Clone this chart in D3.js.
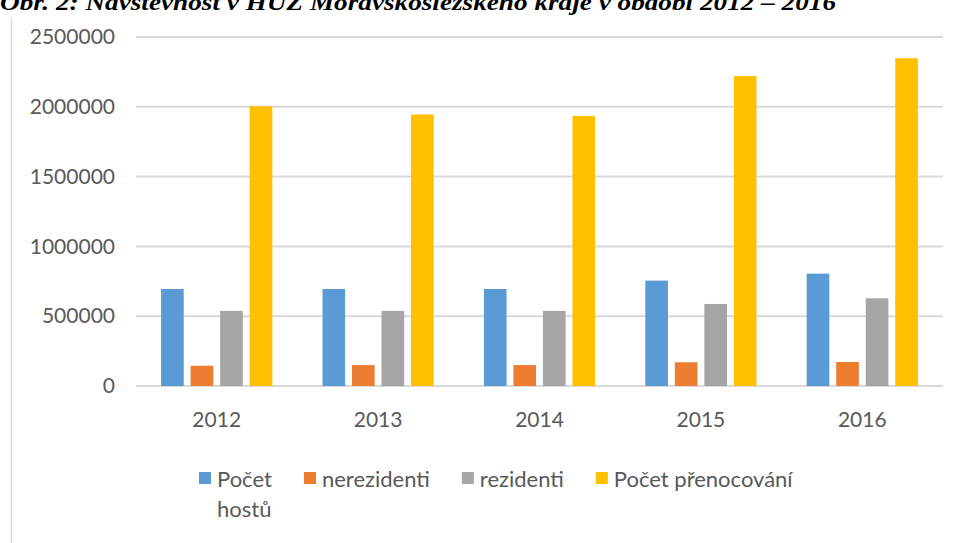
<!DOCTYPE html>
<html>
<head>
<meta charset="utf-8">
<script src="https://cdn.jsdelivr.net/npm/d3@7"></script>
<style>
  body { margin: 0; background: #fff; }
  svg { display: block; }
</style>
</head>
<body>
<div id="chart"></div>
<script>
// data
var years = ["2012", "2013", "2014", "2015", "2016"];
var seriesNames = ["Počet hostů", "nerezidenti", "rezidenti", "Počet přenocování"];
var pocetHostu = [695000, 695000, 695000, 755000, 805000];
var nerezidenti = [145000, 150000, 150000, 170000, 172000];
var rezidenti = [538000, 538000, 538000, 588000, 628000];
var pocetPrenocovani = [2004000, 1945000, 1935000, 2220000, 2348000];
var yTicks = [0, 500000, 1000000, 1500000, 2000000, 2500000];
var titleText = "Obr. 2: Návštěvnost v HUZ Moravskoslezského kraje v období 2012 – 2016";

var colors = ["#5B9BD5", "#ED7D31", "#A5A5A5", "#FFC000"];
var allSeries = [pocetHostu, nerezidenti, rezidenti, pocetPrenocovani];

var svgWidth = 960;
var svgHeight = 543;

var margin = { top: 37, right: 17, bottom: 157, left: 136 };
var width = svgWidth - margin.left - margin.right;
var height = svgHeight - margin.top - margin.bottom;

var svg = d3.select("#chart")
  .append("svg")
  .attr("width", svgWidth)
  .attr("height", svgHeight);

// frame line on the left
svg.append("line")
  .attr("x1", 11.5).attr("x2", 11.5)
  .attr("y1", 18).attr("y2", svgHeight)
  .attr("stroke", "#d9d9d9")
  .attr("stroke-width", 1.5);

// title, clipped at the top edge like in the source scan
svg.append("text")
  .attr("x", 0)
  .attr("y", 10)
  .attr("font-family", "Liberation Serif")
  .attr("font-weight", "bold")
  .attr("font-style", "italic")
  .attr("font-size", "24px")
  .attr("textLength", 836)
  .attr("lengthAdjust", "spacingAndGlyphs")
  .attr("fill", "#000")
  .text(titleText);

var chartGroup = svg.append("g")
  .attr("transform", `translate(${margin.left}, ${margin.top})`);

// scales
var x0 = d3.scaleBand()
  .domain(years)
  .range([0, width]);

var x1 = d3.scaleBand()
  .domain(seriesNames)
  .range([0, x0.bandwidth()])
  .paddingInner(0.233)
  .paddingOuter(0.85);

var yScale = d3.scaleLinear()
  .domain([0, 2500000])
  .range([height, 0]);

// gridlines
chartGroup.append("g")
  .selectAll("line")
  .data(yTicks)
  .enter()
  .append("line")
  .attr("x1", 0)
  .attr("x2", width)
  .attr("y1", d => yScale(d))
  .attr("y2", d => yScale(d))
  .attr("stroke", "#d9d9d9")
  .attr("stroke-width", 2);

// y axis labels
var leftAxis = d3.axisLeft(yScale)
  .tickValues(yTicks)
  .tickFormat(d3.format("d"))
  .tickSize(0)
  .tickPadding(21);
var yAxisG = chartGroup.append("g").call(leftAxis);
yAxisG.select(".domain").remove();
yAxisG.selectAll("text")
  .attr("font-family", "Lato")
  .attr("font-size", "21px")
  .attr("fill", "#595959");

// x axis labels
var bottomAxis = d3.axisBottom(x0).tickSize(0).tickPadding(26);
var xAxisG = chartGroup.append("g")
  .attr("transform", `translate(0, ${height})`)
  .call(bottomAxis);
xAxisG.select(".domain").remove();
xAxisG.selectAll("text")
  .attr("font-family", "Lato")
  .attr("font-size", "21px")
  .attr("fill", "#595959");

// bars
var barData = [];
years.forEach(function(yr, i) {
  seriesNames.forEach(function(s, j) {
    barData.push({ year: yr, series: s, value: allSeries[j][i], color: colors[j] });
  });
});

chartGroup.selectAll("rect.bar")
  .data(barData)
  .enter()
  .append("rect")
  .attr("class", "bar")
  .attr("x", d => x0(d.year) + x1(d.series))
  .attr("y", d => yScale(d.value))
  .attr("width", x1.bandwidth())
  .attr("height", d => height - yScale(d.value))
  .attr("fill", d => d.color);

// legend
var legendLines = [["Počet", "hostů"], ["nerezidenti"], ["rezidenti"], ["Počet přenocování"]];
var legendX = 199;
legendLines.forEach(function(lines, i) {
  var item = svg.append("g");
  item.append("rect")
    .attr("x", legendX)
    .attr("y", 472)
    .attr("width", 12)
    .attr("height", 12)
    .attr("fill", colors[i]);
  var t = item.append("text")
    .attr("x", legendX + 18)
    .attr("y", 487)
    .attr("font-family", "Lato")
    .attr("font-size", "22px")
    .attr("fill", "#595959");
  lines.forEach(function(line, k) {
    t.append("tspan")
      .attr("x", legendX + 18)
      .attr("dy", k === 0 ? 0 : 30)
      .text(line);
  });
  var w = t.node().getBBox().width;
  legendX = legendX + 18 + w + 32;
});
</script>
</body>
</html>
